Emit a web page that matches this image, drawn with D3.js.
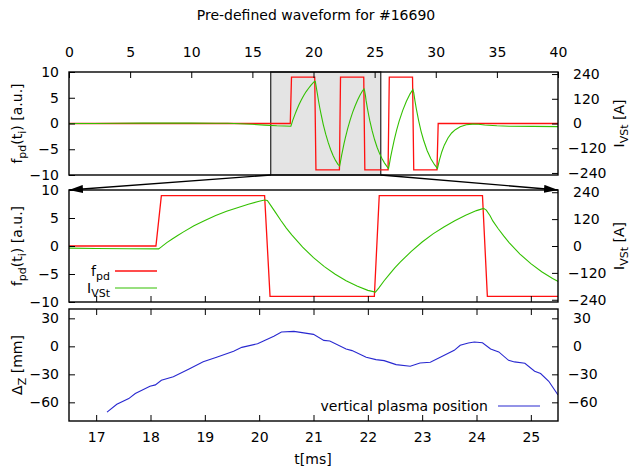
<!DOCTYPE html>
<html><head><meta charset="utf-8">
<script src="https://cdn.jsdelivr.net/npm/d3@7"></script>
<style>
body{margin:0;background:#fff}
svg{display:block}
text{font-family:"DejaVu Sans",sans-serif;font-size:14px;fill:#000}
</style>
</head><body>
<svg id="c" width="632" height="469"></svg>
<script>
// ---------------- data ----------------
const titleText = "Pre-defined waveform for #16690";
const zoomRange = [16.5, 25.5];
const topXTicks = [0,5,10,15,20,25,30,35,40];
const fTicks = [-10,-5,0,5,10];
const iTicks = [-240,-120,0,120,240];
const zoomXTicks = [17,18,19,20,21,22,23,24,25];
const dzTicks = [-60,-30,0,30];

// f_pd waveform (a.u.)
const fpdT = [0,18.1,18.2,20.1,20.2,22.12,22.21,24.11,24.2,26.1,26.2,28.1,28.2,30.1,30.2,40];
const fpdV = [0,0,9,9,-9,-9,9,9,-9,-9,9,9,-9,-9,0,0];

// I_VSt current (A)
const ivstT = [0,2,4,6,8,10,12,13,14,15,16,17,17.6,18.15,
  18.2,18.3,18.4,18.5,18.6,18.8,19.0,19.2,19.4,19.6,19.8,20.0,20.1,
  20.15,20.2,20.3,20.4,20.5,20.6,20.8,21.0,21.2,21.4,21.6,21.8,22.0,22.14,
  22.2,22.3,22.4,22.5,22.6,22.8,23.0,23.2,23.4,23.6,23.8,24.0,24.13,
  24.18,24.25,24.3,24.4,24.5,24.6,24.8,25.0,25.2,25.4,25.6,25.8,26.0,26.14,
  26.2,26.3,26.4,26.6,26.8,27.0,27.3,27.6,27.9,28.13,
  28.2,28.3,28.4,28.6,28.8,29.0,29.3,29.6,29.9,30.14,
  30.3,30.5,30.7,31.0,31.3,31.6,32.0,32.5,33.0,33.5,34,35,36,38,40];
const ivstV = [0,0,1,2,2,2,1,1,-1,-4,-8,-11,-12,-13,
  -4,15,31,47,62,90,114,136,155,171,186,200,205,
  203,186,150,114,80,50,-5,-52,-92,-126,-155,-179,-198,-206,
  -188,-155,-126,-97,-71,-24,18,54,85,113,137,158,168,
  160,135,112,77,45,15,-36,-79,-115,-145,-170,-191,-208,-218,
  -200,-166,-137,-81,-32,10,64,108,144,165,
  150,110,75,14,-38,-80,-132,-171,-200,-218,
  -178,-137,-105,-70,-46,-30,-16,-6,-3,-4,-7,-11,-13,-14,-15];

// vertical plasma position (mm)
const dzT = [17.2,17.38,17.6,17.72,17.99,18.09,18.2,18.42,18.71,18.97,19.23,19.53,19.68,19.97,
  20.27,20.41,20.64,21.0,21.19,21.3,21.6,21.71,21.97,22.15,22.3,22.52,22.78,22.96,23.15,
  23.37,23.59,23.7,23.85,23.96,24.11,24.26,24.41,24.59,24.7,24.89,25.07,25.18,25.33,25.5];
const dzV = [-70.5,-62,-56,-50.5,-42.7,-41.3,-36.3,-32.7,-24.2,-16.4,-11.4,-5.3,-1.1,2.8,
  10.7,15.3,16,12.8,6.4,5.7,-2.8,-4.6,-11.7,-14.2,-15.3,-19.6,-21.4,-17.8,-17.1,
  -10.7,-4.3,1.1,3.6,4.6,3.9,-2.8,-6,-15,-16.7,-18.1,-26.7,-29.2,-37.4,-52];

// ---------------- layout ----------------
const L = 69, R = 558;
const P1 = [72, 175], P2 = [190, 302], P3 = [309, 421];
const RED = "#ff1010", GREEN = "#33c000", BLUE = "#2828d0";

const svg = d3.select("#c");
const defs = svg.append("defs");

const xTop = d3.scaleLinear().domain([0, 40]).range([L, R]);
const xZ = d3.scaleLinear().domain(zoomRange).range([L, R]);
const yTop = d3.scaleLinear().domain([-10, 10]).range([P1[1], P1[0]]);
const y2Top = d3.scaleLinear().domain([-250, 250]).range([P1[1], P1[0]]);
const yMid = d3.scaleLinear().domain([-10, 10]).range([P2[1], P2[0]]);
const y2Mid = d3.scaleLinear().domain([-250, 250]).range([P2[1], P2[0]]);
const yBot = d3.scaleLinear().domain([-80, 40]).range([P3[1], P3[0]]);

function clip(id, y0, y1) {
  defs.append("clipPath").attr("id", id).append("rect")
    .attr("x", L).attr("y", y0).attr("width", R - L).attr("height", y1 - y0);
}
clip("c1", P1[0], P1[1]); clip("c2", P2[0], P2[1]); clip("c3", P3[0], P3[1]);

function rich(sel, parts) {
  // parts: [text, isSub]
  let sub = false;
  parts.forEach(([s, isSub]) => {
    const t = sel.append("tspan").text(s);
    if (isSub && !sub) { t.attr("dy", 4).attr("font-size", 11); sub = true; }
    else if (!isSub && sub) { t.attr("dy", -4); sub = false; }
    else if (isSub) t.attr("font-size", 11);
  });
  return sel;
}

function styleAxis(g) {
  g.select(".domain").remove();
  g.selectAll(".tick line").attr("stroke", "#000").attr("stroke-width", 1);
  g.selectAll(".tick text").attr("font-family", "DejaVu Sans").attr("font-size", 14).attr("fill", "#000");
}
function rightAxis(scale, ticks, x) {
  const g = svg.append("g").attr("transform", `translate(${x},0)`)
    .call(d3.axisRight(scale).tickValues(ticks).tickSize(-6).tickPadding(15).tickFormat(d3.format("d")));
  styleAxis(g);
  g.selectAll(".tick text").attr("dx", d => d < 0 ? -5 : 0);
  return g;
}

const pairs = (T, V) => T.map((t, i) => [t, V[i]]);
const fpd = pairs(fpdT, fpdV), ivst = pairs(ivstT, ivstV), dz = pairs(dzT, dzV);

// ---------------- title ----------------
svg.append("text").attr("x", 316).attr("y", 20).attr("text-anchor", "middle").text(titleText);

// ---------------- panel 1 ----------------
svg.append("rect").attr("x", xTop(zoomRange[0])).attr("y", P1[0])
  .attr("width", xTop(zoomRange[1]) - xTop(zoomRange[0])).attr("height", P1[1] - P1[0])
  .attr("fill", "#e4e4e4").attr("stroke", "#333").attr("stroke-width", 1.3);

const g1 = svg.append("g").attr("clip-path", "url(#c1)");
g1.append("path").datum(fpd).attr("fill", "none").attr("stroke", RED).attr("stroke-width", 1.3)
  .attr("d", d3.line().x(d => xTop(d[0])).y(d => yTop(d[1])));
g1.append("path").datum(ivst).attr("fill", "none").attr("stroke", GREEN).attr("stroke-width", 1.1)
  .attr("d", d3.line().x(d => xTop(d[0])).y(d => y2Top(d[1])));

styleAxis(svg.append("g").attr("transform", `translate(0,${P1[0]})`)
  .call(d3.axisTop(xTop).tickValues(topXTicks).tickSize(-6).tickPadding(15)));
styleAxis(svg.append("g").attr("transform", `translate(${L},0)`)
  .call(d3.axisLeft(yTop).tickValues(fTicks).tickSize(-6).tickPadding(10)));
rightAxis(y2Top, iTicks, R);
svg.append("rect").attr("x", L).attr("y", P1[0]).attr("width", R - L).attr("height", P1[1] - P1[0])
  .attr("fill", "none").attr("stroke", "#000").attr("stroke-width", 1.4);

// ---------------- panel 2 ----------------
const g2 = svg.append("g").attr("clip-path", "url(#c2)");
g2.append("path").datum(fpd).attr("fill", "none").attr("stroke", RED).attr("stroke-width", 1.3)
  .attr("d", d3.line().x(d => xZ(d[0])).y(d => yMid(d[1])));
g2.append("path").datum(ivst).attr("fill", "none").attr("stroke", GREEN).attr("stroke-width", 1.1)
  .attr("d", d3.line().x(d => xZ(d[0])).y(d => y2Mid(d[1])));

styleAxis(svg.append("g").attr("transform", `translate(0,${P2[1]})`)
  .call(d3.axisBottom(xZ).tickValues(zoomXTicks).tickSize(-6).tickFormat("")));
styleAxis(svg.append("g").attr("transform", `translate(${L},0)`)
  .call(d3.axisLeft(yMid).tickValues(fTicks).tickSize(-6).tickPadding(10)));
rightAxis(y2Mid, iTicks, R);
svg.append("rect").attr("x", L).attr("y", P2[0]).attr("width", R - L).attr("height", P2[1] - P2[0])
  .attr("fill", "none").attr("stroke", "#000").attr("stroke-width", 1.4);

// legend panel 2
const lg1y = 271, lg2y = 288;
rich(svg.append("text").attr("x", 110).attr("y", lg1y + 5).attr("text-anchor", "end"), [["f", false], ["pd", true]]);
svg.append("line").attr("x1", 115).attr("x2", 157).attr("y1", lg1y).attr("y2", lg1y).attr("stroke", RED).attr("stroke-width", 1.3);
rich(svg.append("text").attr("x", 110).attr("y", lg2y + 5).attr("text-anchor", "end"), [["I", false], ["VSt", true]]);
svg.append("line").attr("x1", 115).attr("x2", 157).attr("y1", lg2y).attr("y2", lg2y).attr("stroke", GREEN).attr("stroke-width", 1.1);

// zoom arrows
defs.append("marker").attr("id", "ah").attr("viewBox", "0 0 14 8").attr("refX", 14).attr("refY", 4)
  .attr("markerWidth", 14).attr("markerHeight", 8).attr("markerUnits", "userSpaceOnUse").attr("orient", "auto")
  .append("path").attr("d", "M0,0 L14,4 L0,8 Z").attr("fill", "#000");
[[zoomRange[0], L], [zoomRange[1], R]].forEach(([t, xe]) => {
  svg.append("line").attr("x1", xTop(t)).attr("y1", P1[1]).attr("x2", xe).attr("y2", P2[0])
    .attr("stroke", "#000").attr("stroke-width", 1.3).attr("marker-end", "url(#ah)");
});

// ---------------- panel 3 ----------------
const g3 = svg.append("g").attr("clip-path", "url(#c3)");
g3.append("path").datum(dz).attr("fill", "none").attr("stroke", BLUE).attr("stroke-width", 1.1)
  .attr("d", d3.line().x(d => xZ(d[0])).y(d => yBot(d[1])));

styleAxis(svg.append("g").attr("transform", `translate(0,${P3[1]})`)
  .call(d3.axisBottom(xZ).tickValues(zoomXTicks).tickSize(-6).tickPadding(11)));
styleAxis(svg.append("g").attr("transform", `translate(0,${P3[0]})`)
  .call(d3.axisTop(xZ).tickValues(zoomXTicks).tickSize(-6).tickFormat("")));
styleAxis(svg.append("g").attr("transform", `translate(${L},0)`)
  .call(d3.axisLeft(yBot).tickValues(dzTicks).tickSize(-6).tickPadding(10)));
rightAxis(yBot, dzTicks, R);
svg.append("rect").attr("x", L).attr("y", P3[0]).attr("width", R - L).attr("height", P3[1] - P3[0])
  .attr("fill", "none").attr("stroke", "#000").attr("stroke-width", 1.4);

// legend panel 3
svg.append("text").attr("x", 488).attr("y", 411).attr("text-anchor", "end").text("vertical plasma position");
svg.append("line").attr("x1", 498).attr("x2", 540).attr("y1", 406).attr("y2", 406).attr("stroke", BLUE).attr("stroke-width", 1.1);

// ---------------- axis titles ----------------
function rot(x, y, parts) {
  rich(svg.append("text").attr("transform", `translate(${x},${y}) rotate(-90)`).attr("text-anchor", "middle"), parts);
}
const fLab = [["f", false], ["pd", true], ["(t", false], ["i", true], [") [a.u.]", false]];
rot(22, (P1[0] + P1[1]) / 2, fLab);
rot(22, (P2[0] + P2[1]) / 2, fLab);
const iLab = [["I", false], ["VSt", true], [" [A]", false]];
rot(624, (P1[0] + P1[1]) / 2, iLab);
rot(624, (P2[0] + P2[1]) / 2, iLab);
rot(22, (P3[0] + P3[1]) / 2, [["Δ", false], ["Z", true], [" [mm]", false]]);
svg.append("text").attr("x", 313).attr("y", 464).attr("text-anchor", "middle").text("t[ms]");
</script>
</body></html>
